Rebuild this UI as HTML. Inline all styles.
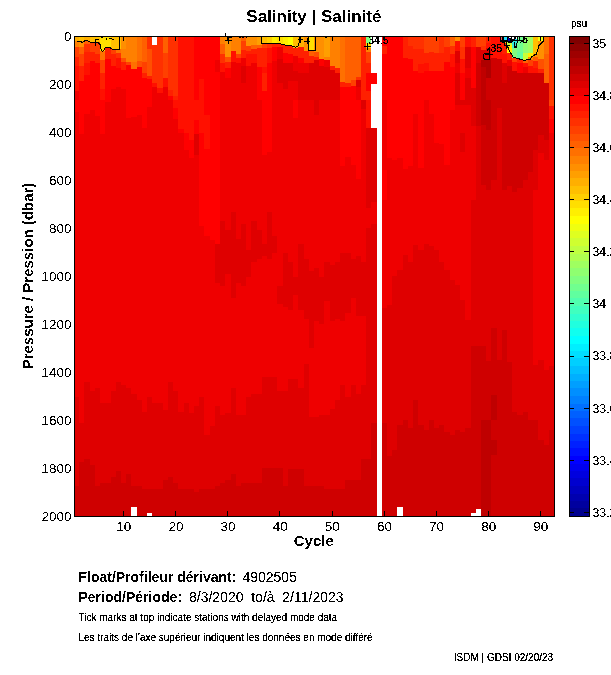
<!DOCTYPE html>
<html lang="en"><head><meta charset="utf-8"><title>Salinity | Salinité</title>
<style>html,body{margin:0;padding:0;background:#fff;}body{width:611px;height:675px;overflow:hidden;}svg{display:block;font-family:'Liberation Sans', sans-serif;fill:#000;}.h rect{shape-rendering:crispEdges;}.ln{stroke:#000;stroke-width:1;fill:none;shape-rendering:crispEdges;}.ct{stroke:#000;stroke-width:1;fill:none;stroke-linejoin:miter;shape-rendering:crispEdges;}.tk{font-size:13.5px;}.cb{font-size:12.3px;}.b{font-weight:bold;}.s{font-size:10px;}text{filter:url(#t);}text.b{filter:url(#tb);}text.s{filter:url(#ts);}</style></head><body>
<svg width="611" height="675" viewBox="0 0 611 675">
<rect x="0" y="0" width="611" height="675" fill="#fff"/>
<defs><clipPath id="ax"><rect x="75" y="37" width="479" height="479"/></clipPath><filter id="t" x="-5%" y="-20%" width="110%" height="140%" color-interpolation-filters="sRGB"><feComponentTransfer><feFuncA type="discrete" tableValues="0 0 0 0 0 1 1 1 1 1 1"/></feComponentTransfer></filter><filter id="ts" x="-5%" y="-20%" width="110%" height="140%" color-interpolation-filters="sRGB"><feComponentTransfer><feFuncA type="discrete" tableValues="0 0 0 0 0 0 0 1 1 1 1 1 1 1 1 1 1 1 1 1"/></feComponentTransfer></filter><filter id="tb" x="-5%" y="-20%" width="110%" height="140%" color-interpolation-filters="sRGB"><feComponentTransfer><feFuncA type="discrete" tableValues="0 1"/></feComponentTransfer></filter></defs>
<g class="h">
<rect x="75" y="37" width="4" height="4" fill="#ffaf00"/>
<rect x="75" y="41" width="4" height="6" fill="#ff8000"/>
<rect x="75" y="47" width="4" height="10" fill="#ff4000"/>
<rect x="75" y="57" width="4" height="9" fill="#ff2000"/>
<rect x="75" y="66" width="4" height="25" fill="#ff1000"/>
<rect x="75" y="91" width="4" height="9" fill="#ef0000"/>
<rect x="75" y="100" width="4" height="12" fill="#ff0000"/>
<rect x="75" y="112" width="4" height="285" fill="#ef0000"/>
<rect x="75" y="397" width="4" height="89" fill="#df0000"/>
<rect x="75" y="486" width="4" height="30" fill="#cf0000"/>
<rect x="79" y="37" width="5" height="4" fill="#ffbf00"/>
<rect x="79" y="41" width="5" height="6" fill="#ff8f00"/>
<rect x="79" y="47" width="5" height="7" fill="#ff6000"/>
<rect x="79" y="54" width="5" height="12" fill="#ff4000"/>
<rect x="79" y="66" width="5" height="15" fill="#ff2000"/>
<rect x="79" y="81" width="5" height="53" fill="#ff0000"/>
<rect x="79" y="134" width="5" height="289" fill="#ef0000"/>
<rect x="79" y="423" width="5" height="39" fill="#df0000"/>
<rect x="79" y="462" width="5" height="54" fill="#cf0000"/>
<rect x="84" y="37" width="6" height="4" fill="#ffaf00"/>
<rect x="84" y="41" width="6" height="3" fill="#ff6000"/>
<rect x="84" y="44" width="6" height="8" fill="#ff3000"/>
<rect x="84" y="52" width="6" height="11" fill="#ff2000"/>
<rect x="84" y="63" width="6" height="12" fill="#ff1000"/>
<rect x="84" y="75" width="6" height="39" fill="#ff0000"/>
<rect x="84" y="114" width="6" height="268" fill="#ef0000"/>
<rect x="84" y="382" width="6" height="77" fill="#df0000"/>
<rect x="84" y="459" width="6" height="57" fill="#cf0000"/>
<rect x="90" y="37" width="5" height="5" fill="#ffbf00"/>
<rect x="90" y="42" width="5" height="10" fill="#ff4000"/>
<rect x="90" y="52" width="5" height="9" fill="#ff2000"/>
<rect x="90" y="61" width="5" height="49" fill="#ff0000"/>
<rect x="90" y="110" width="5" height="281" fill="#ef0000"/>
<rect x="90" y="391" width="5" height="74" fill="#df0000"/>
<rect x="90" y="465" width="5" height="51" fill="#cf0000"/>
<rect x="95" y="37" width="5" height="5" fill="#ffbf00"/>
<rect x="95" y="42" width="5" height="12" fill="#ff4000"/>
<rect x="95" y="54" width="5" height="9" fill="#ff2000"/>
<rect x="95" y="63" width="5" height="53" fill="#ff0000"/>
<rect x="95" y="116" width="5" height="272" fill="#ef0000"/>
<rect x="95" y="388" width="5" height="98" fill="#df0000"/>
<rect x="95" y="486" width="5" height="30" fill="#cf0000"/>
<rect x="100" y="37" width="5" height="14" fill="#ffdf00"/>
<rect x="100" y="51" width="5" height="9" fill="#ff7000"/>
<rect x="100" y="60" width="5" height="13" fill="#ff4000"/>
<rect x="100" y="73" width="5" height="16" fill="#ff2000"/>
<rect x="100" y="89" width="5" height="11" fill="#ff1000"/>
<rect x="100" y="100" width="5" height="34" fill="#ff0000"/>
<rect x="100" y="134" width="5" height="269" fill="#ef0000"/>
<rect x="100" y="403" width="5" height="80" fill="#df0000"/>
<rect x="100" y="483" width="5" height="33" fill="#cf0000"/>
<rect x="105" y="37" width="6" height="10" fill="#ffdf00"/>
<rect x="105" y="47" width="6" height="12" fill="#ff2000"/>
<rect x="105" y="59" width="6" height="43" fill="#ff0000"/>
<rect x="105" y="102" width="6" height="301" fill="#ef0000"/>
<rect x="105" y="403" width="6" height="80" fill="#df0000"/>
<rect x="105" y="483" width="6" height="33" fill="#cf0000"/>
<rect x="111" y="37" width="5" height="12" fill="#ffbf00"/>
<rect x="111" y="49" width="5" height="5" fill="#ff4000"/>
<rect x="111" y="54" width="5" height="12" fill="#ff2000"/>
<rect x="111" y="66" width="5" height="23" fill="#ff0000"/>
<rect x="111" y="89" width="5" height="302" fill="#ef0000"/>
<rect x="111" y="391" width="5" height="86" fill="#df0000"/>
<rect x="111" y="477" width="5" height="39" fill="#cf0000"/>
<rect x="116" y="37" width="5" height="12" fill="#ffbf00"/>
<rect x="116" y="49" width="5" height="4" fill="#ff7000"/>
<rect x="116" y="53" width="5" height="5" fill="#ff3000"/>
<rect x="116" y="58" width="5" height="10" fill="#ff1000"/>
<rect x="116" y="68" width="5" height="19" fill="#ff0000"/>
<rect x="116" y="87" width="5" height="295" fill="#ef0000"/>
<rect x="116" y="382" width="5" height="89" fill="#df0000"/>
<rect x="116" y="471" width="5" height="45" fill="#cf0000"/>
<rect x="121" y="37" width="5" height="12" fill="#ff8f00"/>
<rect x="121" y="49" width="5" height="9" fill="#ff8000"/>
<rect x="121" y="58" width="5" height="4" fill="#ff5000"/>
<rect x="121" y="62" width="5" height="8" fill="#ff2000"/>
<rect x="121" y="70" width="5" height="19" fill="#ff0000"/>
<rect x="121" y="89" width="5" height="296" fill="#ef0000"/>
<rect x="121" y="385" width="5" height="98" fill="#df0000"/>
<rect x="121" y="483" width="5" height="33" fill="#cf0000"/>
<rect x="126" y="37" width="5" height="25" fill="#ff8000"/>
<rect x="126" y="62" width="5" height="3" fill="#ff4000"/>
<rect x="126" y="65" width="5" height="53" fill="#ff0000"/>
<rect x="126" y="118" width="5" height="270" fill="#ef0000"/>
<rect x="126" y="388" width="5" height="86" fill="#df0000"/>
<rect x="126" y="474" width="5" height="42" fill="#cf0000"/>
<rect x="131" y="37" width="6" height="25" fill="#ff8000"/>
<rect x="131" y="62" width="6" height="7" fill="#ff7000"/>
<rect x="131" y="69" width="6" height="48" fill="#ff0000"/>
<rect x="131" y="117" width="6" height="277" fill="#ef0000"/>
<rect x="131" y="394" width="6" height="92" fill="#df0000"/>
<rect x="131" y="486" width="6" height="21" fill="#cf0000"/>
<rect x="137" y="37" width="5" height="24" fill="#ff7000"/>
<rect x="137" y="61" width="5" height="6" fill="#ff5000"/>
<rect x="137" y="67" width="5" height="48" fill="#ff0000"/>
<rect x="137" y="115" width="5" height="285" fill="#ef0000"/>
<rect x="137" y="400" width="5" height="86" fill="#df0000"/>
<rect x="137" y="486" width="5" height="30" fill="#cf0000"/>
<rect x="142" y="37" width="5" height="25" fill="#ff6000"/>
<rect x="142" y="62" width="5" height="11" fill="#ff4000"/>
<rect x="142" y="73" width="5" height="5" fill="#ff2000"/>
<rect x="142" y="78" width="5" height="50" fill="#ff0000"/>
<rect x="142" y="128" width="5" height="284" fill="#ef0000"/>
<rect x="142" y="412" width="5" height="77" fill="#df0000"/>
<rect x="142" y="489" width="5" height="27" fill="#cf0000"/>
<rect x="147" y="37" width="5" height="12" fill="#ff3000"/>
<rect x="147" y="49" width="5" height="27" fill="#ff5000"/>
<rect x="147" y="76" width="5" height="3" fill="#ff2000"/>
<rect x="147" y="79" width="5" height="28" fill="#ff0000"/>
<rect x="147" y="107" width="5" height="290" fill="#ef0000"/>
<rect x="147" y="397" width="5" height="92" fill="#df0000"/>
<rect x="147" y="489" width="5" height="24" fill="#cf0000"/>
<rect x="152" y="45" width="5" height="38" fill="#ff3000"/>
<rect x="152" y="83" width="5" height="4" fill="#ff1000"/>
<rect x="152" y="87" width="5" height="316" fill="#ef0000"/>
<rect x="152" y="403" width="5" height="86" fill="#df0000"/>
<rect x="152" y="489" width="5" height="27" fill="#cf0000"/>
<rect x="157" y="37" width="6" height="51" fill="#ff3000"/>
<rect x="157" y="88" width="6" height="5" fill="#ff1000"/>
<rect x="157" y="93" width="6" height="310" fill="#ef0000"/>
<rect x="157" y="403" width="6" height="86" fill="#df0000"/>
<rect x="157" y="489" width="6" height="27" fill="#cf0000"/>
<rect x="163" y="37" width="5" height="16" fill="#ff6000"/>
<rect x="163" y="53" width="5" height="25" fill="#ff4000"/>
<rect x="163" y="78" width="5" height="9" fill="#ff1000"/>
<rect x="163" y="87" width="5" height="323" fill="#ef0000"/>
<rect x="163" y="410" width="5" height="70" fill="#df0000"/>
<rect x="163" y="480" width="5" height="36" fill="#cf0000"/>
<rect x="168" y="37" width="5" height="53" fill="#ff3000"/>
<rect x="168" y="90" width="5" height="6" fill="#ff2000"/>
<rect x="168" y="96" width="5" height="4" fill="#ff0000"/>
<rect x="168" y="100" width="5" height="282" fill="#ef0000"/>
<rect x="168" y="382" width="5" height="95" fill="#df0000"/>
<rect x="168" y="477" width="5" height="39" fill="#cf0000"/>
<rect x="173" y="37" width="5" height="59" fill="#ff3000"/>
<rect x="173" y="96" width="5" height="4" fill="#ff2000"/>
<rect x="173" y="100" width="5" height="8" fill="#ff1000"/>
<rect x="173" y="108" width="5" height="11" fill="#ff0000"/>
<rect x="173" y="119" width="5" height="272" fill="#ef0000"/>
<rect x="173" y="391" width="5" height="92" fill="#df0000"/>
<rect x="173" y="483" width="5" height="33" fill="#cf0000"/>
<rect x="178" y="37" width="6" height="92" fill="#ff1000"/>
<rect x="178" y="129" width="6" height="4" fill="#ff0000"/>
<rect x="178" y="133" width="6" height="279" fill="#ef0000"/>
<rect x="178" y="412" width="6" height="77" fill="#df0000"/>
<rect x="178" y="489" width="6" height="27" fill="#cf0000"/>
<rect x="184" y="37" width="5" height="96" fill="#ff1000"/>
<rect x="184" y="133" width="5" height="17" fill="#ff0000"/>
<rect x="184" y="150" width="5" height="253" fill="#ef0000"/>
<rect x="184" y="403" width="5" height="86" fill="#df0000"/>
<rect x="184" y="489" width="5" height="27" fill="#cf0000"/>
<rect x="189" y="37" width="5" height="103" fill="#ff1000"/>
<rect x="189" y="140" width="5" height="18" fill="#ff0000"/>
<rect x="189" y="158" width="5" height="255" fill="#ef0000"/>
<rect x="189" y="413" width="5" height="76" fill="#df0000"/>
<rect x="189" y="489" width="5" height="27" fill="#cf0000"/>
<rect x="194" y="37" width="5" height="63" fill="#ff0000"/>
<rect x="194" y="100" width="5" height="20" fill="#ff1000"/>
<rect x="194" y="120" width="5" height="14" fill="#ff0000"/>
<rect x="194" y="134" width="5" height="21" fill="#df0000"/>
<rect x="194" y="155" width="5" height="251" fill="#ef0000"/>
<rect x="194" y="406" width="5" height="86" fill="#df0000"/>
<rect x="194" y="492" width="5" height="24" fill="#cf0000"/>
<rect x="199" y="37" width="5" height="42" fill="#ff0000"/>
<rect x="199" y="79" width="5" height="54" fill="#ff1000"/>
<rect x="199" y="133" width="5" height="93" fill="#ff0000"/>
<rect x="199" y="226" width="5" height="171" fill="#ef0000"/>
<rect x="199" y="397" width="5" height="92" fill="#df0000"/>
<rect x="199" y="489" width="5" height="27" fill="#cf0000"/>
<rect x="204" y="37" width="6" height="78" fill="#ff0000"/>
<rect x="204" y="115" width="6" height="34" fill="#ff1000"/>
<rect x="204" y="149" width="6" height="87" fill="#ff0000"/>
<rect x="204" y="236" width="6" height="199" fill="#ef0000"/>
<rect x="204" y="435" width="6" height="54" fill="#df0000"/>
<rect x="204" y="489" width="6" height="27" fill="#cf0000"/>
<rect x="210" y="37" width="5" height="203" fill="#ff0000"/>
<rect x="210" y="240" width="5" height="186" fill="#ef0000"/>
<rect x="210" y="426" width="5" height="63" fill="#df0000"/>
<rect x="210" y="489" width="5" height="27" fill="#cf0000"/>
<rect x="215" y="37" width="5" height="23" fill="#ff0000"/>
<rect x="215" y="60" width="5" height="12" fill="#ef0000"/>
<rect x="215" y="72" width="5" height="172" fill="#ff0000"/>
<rect x="215" y="244" width="5" height="39" fill="#df0000"/>
<rect x="215" y="283" width="5" height="123" fill="#ef0000"/>
<rect x="215" y="406" width="5" height="80" fill="#df0000"/>
<rect x="215" y="486" width="5" height="30" fill="#cf0000"/>
<rect x="220" y="37" width="5" height="7" fill="#ff8000"/>
<rect x="220" y="44" width="5" height="10" fill="#ff6000"/>
<rect x="220" y="54" width="5" height="9" fill="#ff3000"/>
<rect x="220" y="63" width="5" height="9" fill="#ff1000"/>
<rect x="220" y="72" width="5" height="149" fill="#ef0000"/>
<rect x="220" y="221" width="5" height="65" fill="#df0000"/>
<rect x="220" y="286" width="5" height="129" fill="#ef0000"/>
<rect x="220" y="415" width="5" height="68" fill="#df0000"/>
<rect x="220" y="483" width="5" height="33" fill="#cf0000"/>
<rect x="225" y="37" width="6" height="20" fill="#ff8f00"/>
<rect x="225" y="57" width="6" height="5" fill="#ff5000"/>
<rect x="225" y="62" width="6" height="6" fill="#ff2000"/>
<rect x="225" y="68" width="6" height="10" fill="#ff0000"/>
<rect x="225" y="78" width="6" height="152" fill="#ef0000"/>
<rect x="225" y="230" width="6" height="44" fill="#df0000"/>
<rect x="225" y="274" width="6" height="139" fill="#ef0000"/>
<rect x="225" y="413" width="6" height="67" fill="#df0000"/>
<rect x="225" y="480" width="6" height="36" fill="#cf0000"/>
<rect x="231" y="37" width="5" height="14" fill="#ff8000"/>
<rect x="231" y="51" width="5" height="11" fill="#ff1000"/>
<rect x="231" y="62" width="5" height="150" fill="#ef0000"/>
<rect x="231" y="212" width="5" height="86" fill="#df0000"/>
<rect x="231" y="298" width="5" height="90" fill="#ef0000"/>
<rect x="231" y="388" width="5" height="86" fill="#df0000"/>
<rect x="231" y="474" width="5" height="42" fill="#cf0000"/>
<rect x="236" y="37" width="5" height="17" fill="#ff8000"/>
<rect x="236" y="54" width="5" height="4" fill="#ff4000"/>
<rect x="236" y="58" width="5" height="5" fill="#ff1000"/>
<rect x="236" y="63" width="5" height="176" fill="#ef0000"/>
<rect x="236" y="239" width="5" height="44" fill="#df0000"/>
<rect x="236" y="283" width="5" height="132" fill="#ef0000"/>
<rect x="236" y="415" width="5" height="71" fill="#df0000"/>
<rect x="236" y="486" width="5" height="30" fill="#cf0000"/>
<rect x="241" y="37" width="5" height="4" fill="#ff6000"/>
<rect x="241" y="41" width="5" height="9" fill="#ff4000"/>
<rect x="241" y="50" width="5" height="8" fill="#ff2000"/>
<rect x="241" y="58" width="5" height="8" fill="#ef0000"/>
<rect x="241" y="66" width="5" height="17" fill="#df0000"/>
<rect x="241" y="83" width="5" height="141" fill="#ef0000"/>
<rect x="241" y="224" width="5" height="62" fill="#df0000"/>
<rect x="241" y="286" width="5" height="129" fill="#ef0000"/>
<rect x="241" y="415" width="5" height="68" fill="#df0000"/>
<rect x="241" y="483" width="5" height="33" fill="#cf0000"/>
<rect x="246" y="37" width="5" height="9" fill="#ff8f00"/>
<rect x="246" y="46" width="5" height="5" fill="#ff4000"/>
<rect x="246" y="51" width="5" height="3" fill="#ff2000"/>
<rect x="246" y="54" width="5" height="12" fill="#ff1000"/>
<rect x="246" y="66" width="5" height="184" fill="#ef0000"/>
<rect x="246" y="250" width="5" height="27" fill="#df0000"/>
<rect x="246" y="277" width="5" height="120" fill="#ef0000"/>
<rect x="246" y="397" width="5" height="86" fill="#df0000"/>
<rect x="246" y="483" width="5" height="33" fill="#cf0000"/>
<rect x="251" y="37" width="6" height="8" fill="#ff8f00"/>
<rect x="251" y="45" width="6" height="4" fill="#ff6000"/>
<rect x="251" y="49" width="6" height="5" fill="#ff2000"/>
<rect x="251" y="54" width="6" height="9" fill="#ff1000"/>
<rect x="251" y="63" width="6" height="158" fill="#ef0000"/>
<rect x="251" y="221" width="6" height="41" fill="#df0000"/>
<rect x="251" y="262" width="6" height="132" fill="#ef0000"/>
<rect x="251" y="394" width="6" height="89" fill="#df0000"/>
<rect x="251" y="483" width="6" height="33" fill="#cf0000"/>
<rect x="257" y="37" width="5" height="8" fill="#ff9f00"/>
<rect x="257" y="45" width="5" height="3" fill="#ff6000"/>
<rect x="257" y="48" width="5" height="19" fill="#ff2000"/>
<rect x="257" y="67" width="5" height="33" fill="#ff0000"/>
<rect x="257" y="100" width="5" height="130" fill="#ef0000"/>
<rect x="257" y="230" width="5" height="29" fill="#df0000"/>
<rect x="257" y="259" width="5" height="135" fill="#ef0000"/>
<rect x="257" y="394" width="5" height="89" fill="#df0000"/>
<rect x="257" y="483" width="5" height="33" fill="#cf0000"/>
<rect x="262" y="37" width="5" height="7" fill="#ffbf00"/>
<rect x="262" y="44" width="5" height="4" fill="#ff4000"/>
<rect x="262" y="48" width="5" height="19" fill="#ff2000"/>
<rect x="262" y="67" width="5" height="6" fill="#ff1000"/>
<rect x="262" y="73" width="5" height="18" fill="#ff2000"/>
<rect x="262" y="91" width="5" height="64" fill="#ff0000"/>
<rect x="262" y="155" width="5" height="89" fill="#ef0000"/>
<rect x="262" y="244" width="5" height="12" fill="#df0000"/>
<rect x="262" y="256" width="5" height="121" fill="#ef0000"/>
<rect x="262" y="377" width="5" height="91" fill="#df0000"/>
<rect x="262" y="468" width="5" height="48" fill="#cf0000"/>
<rect x="267" y="37" width="5" height="7" fill="#ffcf00"/>
<rect x="267" y="44" width="5" height="4" fill="#ff3000"/>
<rect x="267" y="48" width="5" height="15" fill="#ff1000"/>
<rect x="267" y="63" width="5" height="89" fill="#ff0000"/>
<rect x="267" y="152" width="5" height="60" fill="#ef0000"/>
<rect x="267" y="212" width="5" height="47" fill="#df0000"/>
<rect x="267" y="259" width="5" height="118" fill="#ef0000"/>
<rect x="267" y="377" width="5" height="91" fill="#df0000"/>
<rect x="267" y="468" width="5" height="48" fill="#cf0000"/>
<rect x="272" y="37" width="5" height="7" fill="#ffef00"/>
<rect x="272" y="44" width="5" height="3" fill="#ff2000"/>
<rect x="272" y="47" width="5" height="14" fill="#ff0000"/>
<rect x="272" y="61" width="5" height="175" fill="#ef0000"/>
<rect x="272" y="236" width="5" height="17" fill="#df0000"/>
<rect x="272" y="253" width="5" height="124" fill="#ef0000"/>
<rect x="272" y="377" width="5" height="91" fill="#df0000"/>
<rect x="272" y="468" width="5" height="48" fill="#cf0000"/>
<rect x="277" y="37" width="6" height="7" fill="#ffdf00"/>
<rect x="277" y="44" width="6" height="3" fill="#ff2000"/>
<rect x="277" y="47" width="6" height="12" fill="#ef0000"/>
<rect x="277" y="59" width="6" height="24" fill="#df0000"/>
<rect x="277" y="83" width="6" height="203" fill="#ef0000"/>
<rect x="277" y="286" width="6" height="18" fill="#df0000"/>
<rect x="277" y="304" width="6" height="87" fill="#ef0000"/>
<rect x="277" y="391" width="6" height="77" fill="#df0000"/>
<rect x="277" y="468" width="6" height="48" fill="#cf0000"/>
<rect x="283" y="37" width="5" height="8" fill="#ffef00"/>
<rect x="283" y="45" width="5" height="8" fill="#ff2000"/>
<rect x="283" y="53" width="5" height="10" fill="#ff0000"/>
<rect x="283" y="63" width="5" height="26" fill="#df0000"/>
<rect x="283" y="89" width="5" height="164" fill="#ef0000"/>
<rect x="283" y="253" width="5" height="54" fill="#df0000"/>
<rect x="283" y="307" width="5" height="84" fill="#ef0000"/>
<rect x="283" y="391" width="5" height="95" fill="#df0000"/>
<rect x="283" y="486" width="5" height="30" fill="#cf0000"/>
<rect x="288" y="37" width="5" height="9" fill="#ffff00"/>
<rect x="288" y="46" width="5" height="8" fill="#ff2000"/>
<rect x="288" y="54" width="5" height="9" fill="#ff0000"/>
<rect x="288" y="63" width="5" height="18" fill="#df0000"/>
<rect x="288" y="81" width="5" height="181" fill="#ef0000"/>
<rect x="288" y="262" width="5" height="48" fill="#df0000"/>
<rect x="288" y="310" width="5" height="69" fill="#ef0000"/>
<rect x="288" y="379" width="5" height="90" fill="#df0000"/>
<rect x="288" y="469" width="5" height="47" fill="#cf0000"/>
<rect x="293" y="37" width="5" height="11" fill="#ffbf00"/>
<rect x="293" y="48" width="5" height="8" fill="#ff2000"/>
<rect x="293" y="56" width="5" height="15" fill="#ef0000"/>
<rect x="293" y="71" width="5" height="10" fill="#df0000"/>
<rect x="293" y="81" width="5" height="19" fill="#ef0000"/>
<rect x="293" y="100" width="5" height="18" fill="#ff0000"/>
<rect x="293" y="118" width="5" height="159" fill="#ef0000"/>
<rect x="293" y="277" width="5" height="18" fill="#df0000"/>
<rect x="293" y="295" width="5" height="84" fill="#ef0000"/>
<rect x="293" y="379" width="5" height="90" fill="#df0000"/>
<rect x="293" y="469" width="5" height="47" fill="#cf0000"/>
<rect x="298" y="37" width="6" height="10" fill="#ffaf00"/>
<rect x="298" y="47" width="6" height="11" fill="#ff2000"/>
<rect x="298" y="58" width="6" height="5" fill="#ff0000"/>
<rect x="298" y="63" width="6" height="10" fill="#ef0000"/>
<rect x="298" y="73" width="6" height="27" fill="#df0000"/>
<rect x="298" y="100" width="6" height="144" fill="#ef0000"/>
<rect x="298" y="244" width="6" height="66" fill="#df0000"/>
<rect x="298" y="310" width="6" height="78" fill="#ef0000"/>
<rect x="298" y="388" width="6" height="81" fill="#df0000"/>
<rect x="298" y="469" width="6" height="47" fill="#cf0000"/>
<rect x="304" y="37" width="5" height="14" fill="#ff8f00"/>
<rect x="304" y="51" width="5" height="12" fill="#ff2000"/>
<rect x="304" y="63" width="5" height="10" fill="#ef0000"/>
<rect x="304" y="73" width="5" height="27" fill="#df0000"/>
<rect x="304" y="100" width="5" height="159" fill="#ef0000"/>
<rect x="304" y="259" width="5" height="60" fill="#df0000"/>
<rect x="304" y="319" width="5" height="45" fill="#ef0000"/>
<rect x="304" y="364" width="5" height="122" fill="#df0000"/>
<rect x="304" y="486" width="5" height="30" fill="#cf0000"/>
<rect x="309" y="37" width="5" height="13" fill="#ffdf00"/>
<rect x="309" y="50" width="5" height="6" fill="#ff6000"/>
<rect x="309" y="56" width="5" height="7" fill="#ff2000"/>
<rect x="309" y="63" width="5" height="37" fill="#df0000"/>
<rect x="309" y="100" width="5" height="171" fill="#ef0000"/>
<rect x="309" y="271" width="5" height="77" fill="#df0000"/>
<rect x="309" y="348" width="5" height="69" fill="#ef0000"/>
<rect x="309" y="417" width="5" height="69" fill="#df0000"/>
<rect x="309" y="486" width="5" height="30" fill="#cf0000"/>
<rect x="314" y="37" width="5" height="15" fill="#ff8f00"/>
<rect x="314" y="52" width="5" height="5" fill="#ff5000"/>
<rect x="314" y="57" width="5" height="3" fill="#ff2000"/>
<rect x="314" y="60" width="5" height="55" fill="#df0000"/>
<rect x="314" y="115" width="5" height="153" fill="#ef0000"/>
<rect x="314" y="268" width="5" height="53" fill="#df0000"/>
<rect x="314" y="321" width="5" height="96" fill="#ef0000"/>
<rect x="314" y="417" width="5" height="69" fill="#df0000"/>
<rect x="314" y="486" width="5" height="30" fill="#cf0000"/>
<rect x="319" y="37" width="5" height="22" fill="#ff8f00"/>
<rect x="319" y="59" width="5" height="7" fill="#ff0000"/>
<rect x="319" y="66" width="5" height="34" fill="#df0000"/>
<rect x="319" y="100" width="5" height="177" fill="#ef0000"/>
<rect x="319" y="277" width="5" height="47" fill="#df0000"/>
<rect x="319" y="324" width="5" height="91" fill="#ef0000"/>
<rect x="319" y="415" width="5" height="71" fill="#df0000"/>
<rect x="319" y="486" width="5" height="30" fill="#cf0000"/>
<rect x="324" y="37" width="6" height="20" fill="#ff9f00"/>
<rect x="324" y="57" width="6" height="3" fill="#ff8000"/>
<rect x="324" y="60" width="6" height="7" fill="#ef0000"/>
<rect x="324" y="67" width="6" height="33" fill="#df0000"/>
<rect x="324" y="100" width="6" height="162" fill="#ef0000"/>
<rect x="324" y="262" width="6" height="39" fill="#df0000"/>
<rect x="324" y="301" width="6" height="114" fill="#ef0000"/>
<rect x="324" y="415" width="6" height="74" fill="#df0000"/>
<rect x="324" y="489" width="6" height="27" fill="#cf0000"/>
<rect x="330" y="37" width="5" height="29" fill="#ff8000"/>
<rect x="330" y="66" width="5" height="4" fill="#ff2000"/>
<rect x="330" y="70" width="5" height="30" fill="#df0000"/>
<rect x="330" y="100" width="5" height="165" fill="#ef0000"/>
<rect x="330" y="265" width="5" height="56" fill="#df0000"/>
<rect x="330" y="321" width="5" height="88" fill="#ef0000"/>
<rect x="330" y="409" width="5" height="80" fill="#df0000"/>
<rect x="330" y="489" width="5" height="27" fill="#cf0000"/>
<rect x="335" y="37" width="5" height="31" fill="#ff8000"/>
<rect x="335" y="68" width="5" height="5" fill="#ff2000"/>
<rect x="335" y="73" width="5" height="27" fill="#df0000"/>
<rect x="335" y="100" width="5" height="162" fill="#ef0000"/>
<rect x="335" y="262" width="5" height="57" fill="#df0000"/>
<rect x="335" y="319" width="5" height="81" fill="#ef0000"/>
<rect x="335" y="400" width="5" height="89" fill="#df0000"/>
<rect x="335" y="489" width="5" height="27" fill="#cf0000"/>
<rect x="340" y="37" width="5" height="45" fill="#ff7000"/>
<rect x="340" y="82" width="5" height="5" fill="#ff2000"/>
<rect x="340" y="87" width="5" height="79" fill="#ff0000"/>
<rect x="340" y="166" width="5" height="87" fill="#ef0000"/>
<rect x="340" y="253" width="5" height="68" fill="#df0000"/>
<rect x="340" y="321" width="5" height="64" fill="#ef0000"/>
<rect x="340" y="385" width="5" height="104" fill="#df0000"/>
<rect x="340" y="489" width="5" height="27" fill="#cf0000"/>
<rect x="345" y="37" width="6" height="46" fill="#ff6000"/>
<rect x="345" y="83" width="6" height="4" fill="#ff2000"/>
<rect x="345" y="87" width="6" height="70" fill="#ff0000"/>
<rect x="345" y="157" width="6" height="96" fill="#ef0000"/>
<rect x="345" y="253" width="6" height="60" fill="#df0000"/>
<rect x="345" y="313" width="6" height="84" fill="#ef0000"/>
<rect x="345" y="397" width="6" height="83" fill="#df0000"/>
<rect x="345" y="480" width="6" height="36" fill="#cf0000"/>
<rect x="351" y="37" width="5" height="43" fill="#ff6000"/>
<rect x="351" y="80" width="5" height="6" fill="#ff4000"/>
<rect x="351" y="86" width="5" height="79" fill="#ff0000"/>
<rect x="351" y="165" width="5" height="94" fill="#ef0000"/>
<rect x="351" y="259" width="5" height="39" fill="#df0000"/>
<rect x="351" y="298" width="5" height="87" fill="#ef0000"/>
<rect x="351" y="385" width="5" height="95" fill="#df0000"/>
<rect x="351" y="480" width="5" height="36" fill="#cf0000"/>
<rect x="356" y="37" width="5" height="40" fill="#ff6000"/>
<rect x="356" y="77" width="5" height="3" fill="#ff3000"/>
<rect x="356" y="80" width="5" height="7" fill="#df0000"/>
<rect x="356" y="87" width="5" height="13" fill="#ef0000"/>
<rect x="356" y="100" width="5" height="79" fill="#ff0000"/>
<rect x="356" y="179" width="5" height="77" fill="#ef0000"/>
<rect x="356" y="256" width="5" height="60" fill="#df0000"/>
<rect x="356" y="316" width="5" height="78" fill="#ef0000"/>
<rect x="356" y="394" width="5" height="86" fill="#df0000"/>
<rect x="356" y="480" width="5" height="36" fill="#cf0000"/>
<rect x="361" y="37" width="5" height="63" fill="#ff2000"/>
<rect x="361" y="100" width="5" height="9" fill="#df0000"/>
<rect x="361" y="109" width="5" height="153" fill="#ef0000"/>
<rect x="361" y="262" width="5" height="54" fill="#df0000"/>
<rect x="361" y="316" width="5" height="69" fill="#ef0000"/>
<rect x="361" y="385" width="5" height="74" fill="#df0000"/>
<rect x="361" y="459" width="5" height="57" fill="#cf0000"/>
<rect x="366" y="37" width="5" height="6" fill="#80ff80"/>
<rect x="366" y="43" width="5" height="5" fill="#ffdf00"/>
<rect x="366" y="48" width="5" height="4" fill="#ff8000"/>
<rect x="366" y="52" width="5" height="11" fill="#ff4000"/>
<rect x="366" y="63" width="5" height="10" fill="#ff2000"/>
<rect x="366" y="73" width="5" height="18" fill="#ff0000"/>
<rect x="366" y="91" width="5" height="9" fill="#ff2000"/>
<rect x="366" y="100" width="5" height="28" fill="#ff1000"/>
<rect x="366" y="128" width="5" height="80" fill="#df0000"/>
<rect x="366" y="208" width="5" height="20" fill="#ef0000"/>
<rect x="366" y="228" width="5" height="231" fill="#df0000"/>
<rect x="366" y="459" width="5" height="57" fill="#cf0000"/>
<rect x="371" y="73" width="6" height="11" fill="#ff0000"/>
<rect x="371" y="128" width="6" height="74" fill="#df0000"/>
<rect x="371" y="202" width="6" height="22" fill="#ef0000"/>
<rect x="371" y="224" width="6" height="199" fill="#df0000"/>
<rect x="371" y="423" width="6" height="93" fill="#cf0000"/>
<rect x="382" y="37" width="5" height="9" fill="#ff0000"/>
<rect x="382" y="46" width="5" height="8" fill="#ff2000"/>
<rect x="382" y="54" width="5" height="46" fill="#ff0000"/>
<rect x="382" y="100" width="5" height="70" fill="#ef0000"/>
<rect x="382" y="170" width="5" height="30" fill="#ff0000"/>
<rect x="382" y="200" width="5" height="108" fill="#ef0000"/>
<rect x="382" y="308" width="5" height="115" fill="#df0000"/>
<rect x="382" y="423" width="5" height="93" fill="#cf0000"/>
<rect x="387" y="37" width="5" height="121" fill="#ff0000"/>
<rect x="387" y="158" width="5" height="147" fill="#ef0000"/>
<rect x="387" y="305" width="5" height="151" fill="#df0000"/>
<rect x="387" y="456" width="5" height="60" fill="#cf0000"/>
<rect x="392" y="37" width="5" height="123" fill="#ff0000"/>
<rect x="392" y="160" width="5" height="116" fill="#ef0000"/>
<rect x="392" y="276" width="5" height="174" fill="#df0000"/>
<rect x="392" y="450" width="5" height="66" fill="#cf0000"/>
<rect x="397" y="37" width="6" height="121" fill="#ff0000"/>
<rect x="397" y="158" width="6" height="112" fill="#ef0000"/>
<rect x="397" y="270" width="6" height="155" fill="#df0000"/>
<rect x="397" y="425" width="6" height="82" fill="#cf0000"/>
<rect x="403" y="37" width="5" height="21" fill="#ff2000"/>
<rect x="403" y="58" width="5" height="111" fill="#ff0000"/>
<rect x="403" y="169" width="5" height="86" fill="#ef0000"/>
<rect x="403" y="255" width="5" height="165" fill="#df0000"/>
<rect x="403" y="420" width="5" height="96" fill="#cf0000"/>
<rect x="408" y="37" width="5" height="9" fill="#ff3000"/>
<rect x="408" y="46" width="5" height="13" fill="#ff2000"/>
<rect x="408" y="59" width="5" height="107" fill="#ff0000"/>
<rect x="408" y="166" width="5" height="96" fill="#ef0000"/>
<rect x="408" y="262" width="5" height="166" fill="#df0000"/>
<rect x="408" y="428" width="5" height="88" fill="#cf0000"/>
<rect x="413" y="37" width="5" height="12" fill="#ff3000"/>
<rect x="413" y="49" width="5" height="22" fill="#ff2000"/>
<rect x="413" y="71" width="5" height="43" fill="#ff0000"/>
<rect x="413" y="114" width="5" height="131" fill="#ef0000"/>
<rect x="413" y="245" width="5" height="155" fill="#df0000"/>
<rect x="413" y="400" width="5" height="116" fill="#cf0000"/>
<rect x="418" y="37" width="6" height="12" fill="#ff3000"/>
<rect x="418" y="49" width="6" height="15" fill="#ff2000"/>
<rect x="418" y="64" width="6" height="9" fill="#ff1000"/>
<rect x="418" y="73" width="6" height="95" fill="#ff0000"/>
<rect x="418" y="168" width="6" height="82" fill="#ef0000"/>
<rect x="418" y="250" width="6" height="175" fill="#df0000"/>
<rect x="418" y="425" width="6" height="91" fill="#cf0000"/>
<rect x="424" y="37" width="5" height="16" fill="#ff4000"/>
<rect x="424" y="53" width="5" height="10" fill="#ff2000"/>
<rect x="424" y="63" width="5" height="8" fill="#ff1000"/>
<rect x="424" y="71" width="5" height="29" fill="#ff0000"/>
<rect x="424" y="100" width="5" height="144" fill="#ef0000"/>
<rect x="424" y="244" width="5" height="186" fill="#df0000"/>
<rect x="424" y="430" width="5" height="86" fill="#cf0000"/>
<rect x="429" y="37" width="5" height="15" fill="#ff4000"/>
<rect x="429" y="52" width="5" height="19" fill="#ff2000"/>
<rect x="429" y="71" width="5" height="43" fill="#ff0000"/>
<rect x="429" y="114" width="5" height="132" fill="#ef0000"/>
<rect x="429" y="246" width="5" height="174" fill="#df0000"/>
<rect x="429" y="420" width="5" height="96" fill="#cf0000"/>
<rect x="434" y="37" width="5" height="16" fill="#ff4000"/>
<rect x="434" y="53" width="5" height="18" fill="#ff2000"/>
<rect x="434" y="71" width="5" height="72" fill="#ff0000"/>
<rect x="434" y="143" width="5" height="107" fill="#ef0000"/>
<rect x="434" y="250" width="5" height="178" fill="#df0000"/>
<rect x="434" y="428" width="5" height="88" fill="#cf0000"/>
<rect x="439" y="37" width="5" height="16" fill="#ff3000"/>
<rect x="439" y="53" width="5" height="18" fill="#ff2000"/>
<rect x="439" y="71" width="5" height="73" fill="#ff0000"/>
<rect x="439" y="144" width="5" height="118" fill="#ef0000"/>
<rect x="439" y="262" width="5" height="163" fill="#df0000"/>
<rect x="439" y="425" width="5" height="91" fill="#cf0000"/>
<rect x="444" y="37" width="6" height="10" fill="#ff4000"/>
<rect x="444" y="47" width="6" height="15" fill="#ff2000"/>
<rect x="444" y="62" width="6" height="103" fill="#ff0000"/>
<rect x="444" y="165" width="6" height="105" fill="#ef0000"/>
<rect x="444" y="270" width="6" height="162" fill="#df0000"/>
<rect x="444" y="432" width="6" height="84" fill="#cf0000"/>
<rect x="450" y="37" width="5" height="9" fill="#ff6000"/>
<rect x="450" y="46" width="5" height="8" fill="#ff3000"/>
<rect x="450" y="54" width="5" height="13" fill="#ff1000"/>
<rect x="450" y="67" width="5" height="43" fill="#ff0000"/>
<rect x="450" y="110" width="5" height="170" fill="#ef0000"/>
<rect x="450" y="280" width="5" height="155" fill="#df0000"/>
<rect x="450" y="435" width="5" height="81" fill="#cf0000"/>
<rect x="455" y="37" width="5" height="4" fill="#ff8f00"/>
<rect x="455" y="41" width="5" height="10" fill="#ff1000"/>
<rect x="455" y="51" width="5" height="12" fill="#df0000"/>
<rect x="455" y="63" width="5" height="10" fill="#ef0000"/>
<rect x="455" y="73" width="5" height="32" fill="#df0000"/>
<rect x="455" y="105" width="5" height="180" fill="#ef0000"/>
<rect x="455" y="285" width="5" height="145" fill="#df0000"/>
<rect x="455" y="430" width="5" height="86" fill="#cf0000"/>
<rect x="460" y="37" width="5" height="10" fill="#ff4000"/>
<rect x="460" y="47" width="5" height="12" fill="#ff3000"/>
<rect x="460" y="59" width="5" height="14" fill="#ff1000"/>
<rect x="460" y="73" width="5" height="27" fill="#ff0000"/>
<rect x="460" y="100" width="5" height="5" fill="#df0000"/>
<rect x="460" y="105" width="5" height="28" fill="#ef0000"/>
<rect x="460" y="133" width="5" height="19" fill="#df0000"/>
<rect x="460" y="152" width="5" height="148" fill="#ef0000"/>
<rect x="460" y="300" width="5" height="132" fill="#df0000"/>
<rect x="460" y="432" width="5" height="84" fill="#cf0000"/>
<rect x="465" y="37" width="6" height="10" fill="#ff1000"/>
<rect x="465" y="47" width="6" height="21" fill="#df0000"/>
<rect x="465" y="68" width="6" height="10" fill="#ef0000"/>
<rect x="465" y="78" width="6" height="27" fill="#df0000"/>
<rect x="465" y="105" width="6" height="215" fill="#ef0000"/>
<rect x="465" y="320" width="6" height="108" fill="#df0000"/>
<rect x="465" y="428" width="6" height="88" fill="#cf0000"/>
<rect x="471" y="37" width="5" height="10" fill="#ff2000"/>
<rect x="471" y="47" width="5" height="41" fill="#ff0000"/>
<rect x="471" y="88" width="5" height="38" fill="#df0000"/>
<rect x="471" y="126" width="5" height="74" fill="#ef0000"/>
<rect x="471" y="200" width="5" height="146" fill="#df0000"/>
<rect x="471" y="346" width="5" height="167" fill="#cf0000"/>
<rect x="476" y="37" width="5" height="10" fill="#ff4000"/>
<rect x="476" y="47" width="5" height="16" fill="#df0000"/>
<rect x="476" y="63" width="5" height="63" fill="#cf0000"/>
<rect x="476" y="126" width="5" height="220" fill="#df0000"/>
<rect x="476" y="346" width="5" height="163" fill="#cf0000"/>
<rect x="481" y="37" width="5" height="9" fill="#ff4000"/>
<rect x="481" y="46" width="5" height="4" fill="#ff3000"/>
<rect x="481" y="50" width="5" height="10" fill="#df0000"/>
<rect x="481" y="60" width="5" height="7" fill="#af0000"/>
<rect x="481" y="67" width="5" height="58" fill="#bf0000"/>
<rect x="481" y="125" width="5" height="60" fill="#cf0000"/>
<rect x="481" y="185" width="5" height="161" fill="#df0000"/>
<rect x="481" y="346" width="5" height="74" fill="#cf0000"/>
<rect x="481" y="420" width="5" height="96" fill="#bf0000"/>
<rect x="486" y="37" width="5" height="6" fill="#ff2000"/>
<rect x="486" y="43" width="5" height="5" fill="#ff1000"/>
<rect x="486" y="48" width="5" height="11" fill="#df0000"/>
<rect x="486" y="59" width="5" height="19" fill="#af0000"/>
<rect x="486" y="78" width="5" height="22" fill="#cf0000"/>
<rect x="486" y="100" width="5" height="30" fill="#bf0000"/>
<rect x="486" y="130" width="5" height="60" fill="#cf0000"/>
<rect x="486" y="190" width="5" height="171" fill="#df0000"/>
<rect x="486" y="361" width="5" height="59" fill="#cf0000"/>
<rect x="486" y="420" width="5" height="96" fill="#bf0000"/>
<rect x="491" y="37" width="6" height="21" fill="#ff1000"/>
<rect x="491" y="58" width="6" height="122" fill="#cf0000"/>
<rect x="491" y="180" width="6" height="148" fill="#df0000"/>
<rect x="491" y="328" width="6" height="67" fill="#cf0000"/>
<rect x="491" y="395" width="6" height="25" fill="#bf0000"/>
<rect x="491" y="420" width="6" height="20" fill="#cf0000"/>
<rect x="491" y="440" width="6" height="15" fill="#bf0000"/>
<rect x="491" y="455" width="6" height="61" fill="#cf0000"/>
<rect x="497" y="37" width="5" height="22" fill="#ff1000"/>
<rect x="497" y="59" width="5" height="49" fill="#cf0000"/>
<rect x="497" y="108" width="5" height="252" fill="#df0000"/>
<rect x="497" y="360" width="5" height="156" fill="#cf0000"/>
<rect x="502" y="37" width="5" height="3" fill="#00e0ff"/>
<rect x="502" y="40" width="5" height="14" fill="#ff2000"/>
<rect x="502" y="54" width="5" height="9" fill="#ff1000"/>
<rect x="502" y="63" width="5" height="20" fill="#df0000"/>
<rect x="502" y="83" width="5" height="107" fill="#cf0000"/>
<rect x="502" y="190" width="5" height="140" fill="#df0000"/>
<rect x="502" y="330" width="5" height="186" fill="#cf0000"/>
<rect x="507" y="37" width="5" height="5" fill="#20d8ff"/>
<rect x="507" y="42" width="5" height="3" fill="#c8ff38"/>
<rect x="507" y="45" width="5" height="8" fill="#ffef00"/>
<rect x="507" y="53" width="5" height="7" fill="#ff2000"/>
<rect x="507" y="60" width="5" height="6" fill="#ef0000"/>
<rect x="507" y="66" width="5" height="120" fill="#cf0000"/>
<rect x="507" y="186" width="5" height="176" fill="#df0000"/>
<rect x="507" y="362" width="5" height="154" fill="#cf0000"/>
<rect x="512" y="37" width="5" height="11" fill="#40f0d0"/>
<rect x="512" y="48" width="5" height="10" fill="#80ff80"/>
<rect x="512" y="58" width="5" height="4" fill="#ff4000"/>
<rect x="512" y="62" width="5" height="9" fill="#ff1000"/>
<rect x="512" y="71" width="5" height="121" fill="#cf0000"/>
<rect x="512" y="192" width="5" height="220" fill="#df0000"/>
<rect x="512" y="412" width="5" height="104" fill="#cf0000"/>
<rect x="517" y="37" width="6" height="15" fill="#70ff90"/>
<rect x="517" y="52" width="6" height="7" fill="#60ffa0"/>
<rect x="517" y="59" width="6" height="4" fill="#ff2000"/>
<rect x="517" y="63" width="6" height="10" fill="#ff0000"/>
<rect x="517" y="73" width="6" height="115" fill="#cf0000"/>
<rect x="517" y="188" width="6" height="227" fill="#df0000"/>
<rect x="517" y="415" width="6" height="101" fill="#cf0000"/>
<rect x="523" y="37" width="5" height="16" fill="#90ff70"/>
<rect x="523" y="53" width="5" height="7" fill="#c8ff38"/>
<rect x="523" y="60" width="5" height="3" fill="#ff6000"/>
<rect x="523" y="63" width="5" height="4" fill="#ff1000"/>
<rect x="523" y="67" width="5" height="6" fill="#ef0000"/>
<rect x="523" y="73" width="5" height="107" fill="#cf0000"/>
<rect x="523" y="180" width="5" height="232" fill="#df0000"/>
<rect x="523" y="412" width="5" height="104" fill="#cf0000"/>
<rect x="528" y="37" width="5" height="16" fill="#a0ff60"/>
<rect x="528" y="53" width="5" height="4" fill="#ffef00"/>
<rect x="528" y="57" width="5" height="3" fill="#ff8f00"/>
<rect x="528" y="60" width="5" height="6" fill="#ff4000"/>
<rect x="528" y="66" width="5" height="7" fill="#ff1000"/>
<rect x="528" y="73" width="5" height="99" fill="#cf0000"/>
<rect x="528" y="172" width="5" height="248" fill="#df0000"/>
<rect x="528" y="420" width="5" height="96" fill="#cf0000"/>
<rect x="533" y="37" width="5" height="17" fill="#ffbf00"/>
<rect x="533" y="54" width="5" height="3" fill="#ff8f00"/>
<rect x="533" y="57" width="5" height="4" fill="#ff6000"/>
<rect x="533" y="61" width="5" height="7" fill="#ff2000"/>
<rect x="533" y="68" width="5" height="5" fill="#ff1000"/>
<rect x="533" y="73" width="5" height="77" fill="#cf0000"/>
<rect x="533" y="150" width="5" height="40" fill="#df0000"/>
<rect x="533" y="190" width="5" height="175" fill="#ef0000"/>
<rect x="533" y="365" width="5" height="55" fill="#df0000"/>
<rect x="533" y="420" width="5" height="96" fill="#cf0000"/>
<rect x="538" y="37" width="6" height="4" fill="#f0ff10"/>
<rect x="538" y="41" width="6" height="18" fill="#ff8f00"/>
<rect x="538" y="59" width="6" height="10" fill="#ff5000"/>
<rect x="538" y="69" width="6" height="4" fill="#ff2000"/>
<rect x="538" y="73" width="6" height="62" fill="#cf0000"/>
<rect x="538" y="135" width="6" height="18" fill="#df0000"/>
<rect x="538" y="153" width="6" height="207" fill="#ef0000"/>
<rect x="538" y="360" width="6" height="80" fill="#df0000"/>
<rect x="538" y="440" width="6" height="76" fill="#cf0000"/>
<rect x="544" y="37" width="5" height="17" fill="#ff7000"/>
<rect x="544" y="54" width="5" height="29" fill="#ff6000"/>
<rect x="544" y="83" width="5" height="57" fill="#cf0000"/>
<rect x="544" y="140" width="5" height="20" fill="#df0000"/>
<rect x="544" y="160" width="5" height="210" fill="#ef0000"/>
<rect x="544" y="370" width="5" height="75" fill="#df0000"/>
<rect x="544" y="445" width="5" height="71" fill="#cf0000"/>
<rect x="549" y="37" width="5" height="63" fill="#ff3000"/>
<rect x="549" y="100" width="5" height="6" fill="#ff4000"/>
<rect x="549" y="106" width="5" height="13" fill="#ff1000"/>
<rect x="549" y="119" width="5" height="14" fill="#ff0000"/>
<rect x="549" y="133" width="5" height="233" fill="#ef0000"/>
<rect x="549" y="366" width="5" height="64" fill="#df0000"/>
<rect x="549" y="430" width="5" height="86" fill="#cf0000"/>
</g>
<g class="h">
<rect x="570" y="508" width="19" height="8" fill="#00008f"/>
<rect x="570" y="501" width="19" height="7" fill="#00009f"/>
<rect x="570" y="494" width="19" height="7" fill="#0000af"/>
<rect x="570" y="486" width="19" height="8" fill="#0000bf"/>
<rect x="570" y="478" width="19" height="8" fill="#0000cf"/>
<rect x="570" y="471" width="19" height="7" fill="#0000df"/>
<rect x="570" y="464" width="19" height="7" fill="#0000ef"/>
<rect x="570" y="456" width="19" height="8" fill="#0000ff"/>
<rect x="570" y="448" width="19" height="8" fill="#0010ff"/>
<rect x="570" y="441" width="19" height="7" fill="#0020ff"/>
<rect x="570" y="434" width="19" height="7" fill="#0030ff"/>
<rect x="570" y="426" width="19" height="8" fill="#0040ff"/>
<rect x="570" y="418" width="19" height="8" fill="#0050ff"/>
<rect x="570" y="411" width="19" height="7" fill="#0060ff"/>
<rect x="570" y="404" width="19" height="7" fill="#0070ff"/>
<rect x="570" y="396" width="19" height="8" fill="#0080ff"/>
<rect x="570" y="388" width="19" height="8" fill="#008fff"/>
<rect x="570" y="381" width="19" height="7" fill="#009fff"/>
<rect x="570" y="374" width="19" height="7" fill="#00afff"/>
<rect x="570" y="366" width="19" height="8" fill="#00bfff"/>
<rect x="570" y="358" width="19" height="8" fill="#00cfff"/>
<rect x="570" y="351" width="19" height="7" fill="#00dfff"/>
<rect x="570" y="344" width="19" height="7" fill="#00efff"/>
<rect x="570" y="336" width="19" height="8" fill="#00ffff"/>
<rect x="570" y="328" width="19" height="8" fill="#10ffef"/>
<rect x="570" y="321" width="19" height="7" fill="#20ffdf"/>
<rect x="570" y="314" width="19" height="7" fill="#30ffcf"/>
<rect x="570" y="306" width="19" height="8" fill="#40ffbf"/>
<rect x="570" y="298" width="19" height="8" fill="#50ffaf"/>
<rect x="570" y="291" width="19" height="7" fill="#60ff9f"/>
<rect x="570" y="284" width="19" height="7" fill="#70ff8f"/>
<rect x="570" y="276" width="19" height="8" fill="#80ff80"/>
<rect x="570" y="268" width="19" height="8" fill="#8fff70"/>
<rect x="570" y="261" width="19" height="7" fill="#9fff60"/>
<rect x="570" y="254" width="19" height="7" fill="#afff50"/>
<rect x="570" y="246" width="19" height="8" fill="#bfff40"/>
<rect x="570" y="238" width="19" height="8" fill="#cfff30"/>
<rect x="570" y="231" width="19" height="7" fill="#dfff20"/>
<rect x="570" y="224" width="19" height="7" fill="#efff10"/>
<rect x="570" y="216" width="19" height="8" fill="#ffff00"/>
<rect x="570" y="208" width="19" height="8" fill="#ffef00"/>
<rect x="570" y="201" width="19" height="7" fill="#ffdf00"/>
<rect x="570" y="194" width="19" height="7" fill="#ffcf00"/>
<rect x="570" y="186" width="19" height="8" fill="#ffbf00"/>
<rect x="570" y="178" width="19" height="8" fill="#ffaf00"/>
<rect x="570" y="171" width="19" height="7" fill="#ff9f00"/>
<rect x="570" y="164" width="19" height="7" fill="#ff8f00"/>
<rect x="570" y="156" width="19" height="8" fill="#ff8000"/>
<rect x="570" y="148" width="19" height="8" fill="#ff7000"/>
<rect x="570" y="141" width="19" height="7" fill="#ff6000"/>
<rect x="570" y="134" width="19" height="7" fill="#ff5000"/>
<rect x="570" y="126" width="19" height="8" fill="#ff4000"/>
<rect x="570" y="118" width="19" height="8" fill="#ff3000"/>
<rect x="570" y="111" width="19" height="7" fill="#ff2000"/>
<rect x="570" y="104" width="19" height="7" fill="#ff1000"/>
<rect x="570" y="96" width="19" height="8" fill="#ff0000"/>
<rect x="570" y="88" width="19" height="8" fill="#ef0000"/>
<rect x="570" y="81" width="19" height="7" fill="#df0000"/>
<rect x="570" y="74" width="19" height="7" fill="#cf0000"/>
<rect x="570" y="66" width="19" height="8" fill="#bf0000"/>
<rect x="570" y="58" width="19" height="8" fill="#af0000"/>
<rect x="570" y="51" width="19" height="7" fill="#9f0000"/>
<rect x="570" y="44" width="19" height="7" fill="#8f0000"/>
<rect x="570" y="36" width="19" height="8" fill="#800000"/>
</g>
<g class="h">
<rect x="500" y="37" width="18" height="5" fill="#000"/>
<rect x="501" y="37" width="1" height="3" fill="#ff5060"/>
<rect x="504" y="37" width="3" height="3" fill="#20e0ff"/>
<rect x="508" y="38" width="2" height="3" fill="#0000c0"/>
<rect x="509" y="37" width="2" height="1" fill="#fff"/>
<rect x="512" y="37" width="2" height="2" fill="#fff"/>
<rect x="516" y="37" width="1" height="2" fill="#fff"/>
<rect x="515" y="39" width="2" height="1" fill="#20e0ff"/>
<rect x="512" y="40" width="5" height="5" fill="#30e8e0"/>
<rect x="514" y="45" width="2" height="1" fill="#30e8e0"/>
<rect x="514" y="46" width="2" height="1" fill="#000"/>
<rect x="502" y="41" width="1" height="1" fill="#70ff90"/>
<rect x="505" y="42" width="1" height="1" fill="#ffe000"/>
</g>
<g class="ct">
<polyline points="77.3,41.4 81.0,41.4 81.8,42.2 83.0,42.2 84.2,41.2 85.5,40.4 87.5,40.4 89.1,41.8 90.4,42.2 97.3,42.2 98.5,43.0 100.2,44.6 101.0,48.7 102.2,51.2 103.1,51.2 104.3,49.5 105.5,47.5 110.0,47.5 112.1,49.1 119.0,49.1 119.0,36.9"/>
<polyline points="95.7,39.1 98.5,39.1 98.5,39.7"/>
<polyline points="100.6,37.3 103.1,37.3"/>
<polyline points="106.7,37.7 106.7,39.9"/>
<polyline points="109.2,38.5 111.2,38.5 112.1,39.3 114.1,39.3"/>
<polyline points="261.4,36.9 261.4,43.7 273.0,43.7 272.9,43.3 279.8,43.3 282.8,44.7 293.6,46.2 295.5,47.2 298.5,45.7 299.0,42.8 299.5,39.8 299.5,36.9"/>
<polyline points="308.5,37.4 308.5,50.1 315.4,50.1 315.4,36.9"/>
<polyline points="228.8,37.5 231.7,37.5"/>
<polyline points="238.6,37.9 240.5,37.9"/>
<polyline points="242.0,37.9 244.0,37.9"/>
<polyline points="245.5,37.7 247.4,37.7"/>
<polyline points="325.0,37.5 327.0,37.5"/>
<polyline points="543.4,36.5 543.4,41.1 538.8,45.7 537.5,50.9 536.2,54.2 532.3,56.2 529.7,59.9 523.1,60.1 517.9,58.5 513.3,57.5 511.4,54.2 508.7,49.6 507.4,45.7 504.2,45.1 504.2,42.4 502.2,42.4 502.2,39.2"/>
<polyline points="540.2,36.5 540.2,40.5"/>
<polyline points="519.2,37.2 519.2,39.8 521.8,41.1 524.4,39.8 524.4,37.2"/>
<polyline points="514.0,41.8 514.0,47.0 516.6,47.0 516.6,43.1"/>
<polyline points="483.5,53.5 483.5,57.5 484.5,59.5 489.5,59.5 489.5,53.5 483.5,53.5"/>
<polyline points="486.5,51.5 487.5,50.5 488.5,48.5 489.5,47.5"/>
<path d="M92.1 42.2H98.7M95.4 38.9V45.5"/>
<path d="M224.8 40.5H231.8M228.3 37.0V44.0"/>
<path d="M297.7 39.8H303.3M300.5 37.0V42.6"/>
<path d="M304.3 41.3H310.3M307.3 38.3V44.3"/>
<path d="M364.3 46.4H370.7M367.5 43.2V49.6"/>
<path d="M503.6 45.6H510.0M506.8 42.4V48.8"/>
<path d="M485.0 54.5H492.5M489.5 47.5V59.5"/>
<path d="M225.5 33V37"/>
</g>
<g clip-path="url(#ax)">
<text class="s" style="font-size:10.5px" x="368.2" y="43.6">34.5</text>
<text class="s" style="font-size:10.5px" x="490.4" y="51.8">35</text>
<text class="s" style="font-size:10.5px" x="507.3" y="42.7">34.5</text>
</g>
<rect class="ln" x="74.5" y="36.5" width="480" height="480"/>
<line class="ln" x1="123.5" y1="516" x2="123.5" y2="511"/>
<line class="ln" x1="123.5" y1="37" x2="123.5" y2="41"/>
<text class="tk" x="123.8" y="530.7" text-anchor="middle">10</text>
<line class="ln" x1="175.5" y1="516" x2="175.5" y2="511"/>
<line class="ln" x1="175.5" y1="37" x2="175.5" y2="41"/>
<text class="tk" x="175.9" y="530.7" text-anchor="middle">20</text>
<line class="ln" x1="227.5" y1="516" x2="227.5" y2="511"/>
<line class="ln" x1="227.5" y1="37" x2="227.5" y2="41"/>
<text class="tk" x="228.1" y="530.7" text-anchor="middle">30</text>
<line class="ln" x1="279.5" y1="516" x2="279.5" y2="511"/>
<line class="ln" x1="279.5" y1="37" x2="279.5" y2="41"/>
<text class="tk" x="280.2" y="530.7" text-anchor="middle">40</text>
<line class="ln" x1="332.5" y1="516" x2="332.5" y2="511"/>
<line class="ln" x1="332.5" y1="37" x2="332.5" y2="41"/>
<text class="tk" x="332.3" y="530.7" text-anchor="middle">50</text>
<line class="ln" x1="384.5" y1="516" x2="384.5" y2="511"/>
<line class="ln" x1="384.5" y1="37" x2="384.5" y2="41"/>
<text class="tk" x="384.5" y="530.7" text-anchor="middle">60</text>
<line class="ln" x1="436.5" y1="516" x2="436.5" y2="511"/>
<line class="ln" x1="436.5" y1="37" x2="436.5" y2="41"/>
<text class="tk" x="436.6" y="530.7" text-anchor="middle">70</text>
<line class="ln" x1="488.5" y1="516" x2="488.5" y2="511"/>
<line class="ln" x1="488.5" y1="37" x2="488.5" y2="41"/>
<text class="tk" x="488.7" y="530.7" text-anchor="middle">80</text>
<line class="ln" x1="540.5" y1="516" x2="540.5" y2="511"/>
<line class="ln" x1="540.5" y1="37" x2="540.5" y2="41"/>
<text class="tk" x="540.8" y="530.7" text-anchor="middle">90</text>
<text class="tk" x="71.6" y="41" text-anchor="end">0</text>
<text class="tk" x="71.6" y="89" text-anchor="end">200</text>
<text class="tk" x="71.6" y="137" text-anchor="end">400</text>
<text class="tk" x="71.6" y="185" text-anchor="end">600</text>
<text class="tk" x="71.6" y="233" text-anchor="end">800</text>
<text class="tk" x="71.6" y="281" text-anchor="end">1000</text>
<text class="tk" x="71.6" y="329" text-anchor="end">1200</text>
<text class="tk" x="71.6" y="377" text-anchor="end">1400</text>
<text class="tk" x="71.6" y="425" text-anchor="end">1600</text>
<text class="tk" x="71.6" y="473" text-anchor="end">1800</text>
<text class="tk" x="71.6" y="521" text-anchor="end">2000</text>
<rect class="ln" x="569.5" y="36.5" width="20" height="480"/>
<line class="ln" x1="570" y1="43.5" x2="574" y2="43.5"/>
<line class="ln" x1="584" y1="43.5" x2="589" y2="43.5"/>
<text class="cb" x="592.5" y="48.0">35</text>
<line class="ln" x1="570" y1="95.5" x2="574" y2="95.5"/>
<line class="ln" x1="584" y1="95.5" x2="589" y2="95.5"/>
<text class="cb" x="592.5" y="100.1">34.8</text>
<line class="ln" x1="570" y1="147.5" x2="574" y2="147.5"/>
<line class="ln" x1="584" y1="147.5" x2="589" y2="147.5"/>
<text class="cb" x="592.5" y="152.1">34.6</text>
<line class="ln" x1="570" y1="199.5" x2="574" y2="199.5"/>
<line class="ln" x1="584" y1="199.5" x2="589" y2="199.5"/>
<text class="cb" x="592.5" y="204.2">34.4</text>
<line class="ln" x1="570" y1="251.5" x2="574" y2="251.5"/>
<line class="ln" x1="584" y1="251.5" x2="589" y2="251.5"/>
<text class="cb" x="592.5" y="256.3">34.2</text>
<line class="ln" x1="570" y1="303.5" x2="574" y2="303.5"/>
<line class="ln" x1="584" y1="303.5" x2="589" y2="303.5"/>
<text class="cb" x="592.5" y="308.4">34</text>
<line class="ln" x1="570" y1="356.5" x2="574" y2="356.5"/>
<line class="ln" x1="584" y1="356.5" x2="589" y2="356.5"/>
<text class="cb" x="592.5" y="360.4">33.8</text>
<line class="ln" x1="570" y1="408.5" x2="574" y2="408.5"/>
<line class="ln" x1="584" y1="408.5" x2="589" y2="408.5"/>
<text class="cb" x="592.5" y="412.5">33.6</text>
<line class="ln" x1="570" y1="460.5" x2="574" y2="460.5"/>
<line class="ln" x1="584" y1="460.5" x2="589" y2="460.5"/>
<text class="cb" x="592.5" y="464.6">33.4</text>
<line class="ln" x1="570" y1="512.5" x2="574" y2="512.5"/>
<line class="ln" x1="584" y1="512.5" x2="589" y2="512.5"/>
<text class="cb" x="592.5" y="516.6">33.2</text>
<text class="s" x="571" y="26.7">psu</text>
<text class="b" x="313.9" y="21.7" text-anchor="middle" font-size="17">Salinity | Salinité</text>
<text class="b" x="313.8" y="546" text-anchor="middle" font-size="15">Cycle</text>
<text class="b" transform="translate(33,276) rotate(-90)" text-anchor="middle" font-size="15">Pressure / Pression (dbar)</text>
<text class="b" x="78.5" y="581.5" font-size="14">Float/Profileur dérivant:</text>
<text x="242.4" y="581.5" font-size="14">4902505</text>
<text class="b" x="78.5" y="601.7" font-size="14">Period/Période:</text>
<text x="189" y="601.7" font-size="14">8/3/2020</text>
<text x="251.3" y="601.7" font-size="14">to/à</text>
<text x="282.3" y="601.7" font-size="14">2/11/2023</text>
<text class="s" x="78.5" y="621.3">Tick marks at top indicate stations with delayed mode data</text>
<text class="s" x="78.5" y="641">Les traits de l'axe supérieur indiquent les données en mode différé</text>
<text class="s" x="453.8" y="661">ISDM | GDSI 02/20/23</text>
</svg></body></html>
